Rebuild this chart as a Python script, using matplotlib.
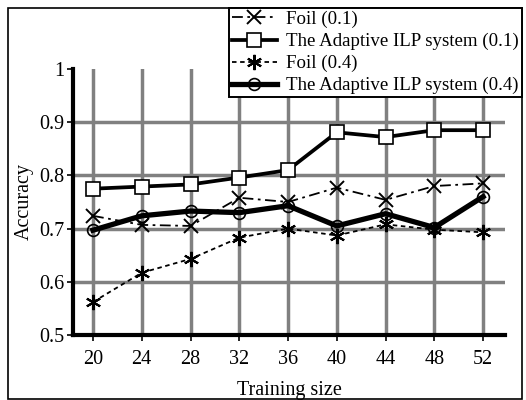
import matplotlib
matplotlib.use("Agg")
import matplotlib.pyplot as plt
from matplotlib.patches import Rectangle

plt.rcParams['font.family'] = ['Liberation Serif', 'DejaVu Serif']

training_size = [20, 24, 28, 32, 36, 40, 44, 48, 52]
foil_01 = [0.724, 0.707, 0.705, 0.758, 0.750, 0.777, 0.754, 0.780, 0.785]
adaptive_01 = [0.775, 0.779, 0.783, 0.796, 0.810, 0.881, 0.872, 0.885, 0.885]
foil_04 = [0.562, 0.617, 0.643, 0.683, 0.700, 0.687, 0.708, 0.698, 0.693]
adaptive_04 = [0.697, 0.724, 0.733, 0.730, 0.743, 0.705, 0.728, 0.702, 0.760]
labels = ["Foil (0.1)", "The Adaptive ILP system (0.1)",
          "Foil (0.4)", "The Adaptive ILP system (0.4)"]
yticks = [0.5, 0.6, 0.7, 0.8, 0.9, 1.0]
ytick_labels = ["0.5", "0.6", "0.7", "0.8", "0.9", "1"]

W, H = 526, 400
fig = plt.figure(figsize=(W / 100, H / 100), dpi=100)
ax = fig.add_axes([73 / W, 1 - 335 / H, (505 - 73) / W, (335 - 69) / H])

l2, = ax.plot(training_size, adaptive_01, color='black', lw=2.7, marker='s',
              ms=9.5, mfc='white', mec='black', mew=1.2, zorder=4, label=labels[1])
l4, = ax.plot(training_size, adaptive_04, color='black', lw=3.8, marker='o',
              ms=8.5, mfc='none', mec='black', mew=1.2, zorder=5, label=labels[3])
l1, = ax.plot(training_size, foil_01, color='black', lw=1.3, marker='x',
              ms=9.5, mew=1.4, dashes=[6, 2.5, 1.5, 2.5], zorder=6, label=labels[0])
l3, = ax.plot(training_size, foil_04, color='black', lw=1.3, marker=(6, 2, 0),
              ms=11, mew=1.5, dashes=[2.5, 2], zorder=6, label=labels[2])

ax.set_xlim(18.36, 53.8)
ax.set_ylim(0.5, 1.0)
ax.set_xticks(training_size)
ax.set_xticklabels([str(v) for v in training_size])
ax.set_yticks(yticks)
ax.set_yticklabels(ytick_labels)
ax.grid(True, color='#808080', lw=2.5, zorder=1)
ax.set_axisbelow(True)
ax.yaxis.get_gridlines()[-1].set_visible(False)
ax.yaxis.get_gridlines()[0].set_visible(False)

for s in ['top', 'right']:
    ax.spines[s].set_visible(False)
for s in ['left', 'bottom']:
    ax.spines[s].set_linewidth(3.0)
    ax.spines[s].set_zorder(7)
ax.tick_params(axis='both', direction='out', length=4.5, width=1.2,
               labelsize=14.5, color='black')
ax.tick_params(axis='x', pad=6)
ax.tick_params(axis='y', pad=1.5)

ax.set_xlabel("Training size", fontsize=14.5, labelpad=9)
ax.set_ylabel("Accuracy", fontsize=14.5, labelpad=4)

leg = fig.legend(handles=[l1, l2, l3, l4], labels=labels, loc='upper right',
                 bbox_to_anchor=(522 / W, 1 - 8 / H), fontsize=13.6,
                 numpoints=1, handlelength=2.4, handletextpad=0.5,
                 labelspacing=0.25, borderpad=0.15, borderaxespad=0,
                 fancybox=False, framealpha=1, edgecolor='black')
leg.get_frame().set_linewidth(1.4)
leg.set_zorder(10)

fig.patches.append(Rectangle((8 / W, 1 / H), (522 - 8) / W, (392 - 1) / H,
                             transform=fig.transFigure, fill=False,
                             edgecolor='black', lw=1.2, zorder=0))

fig.savefig("out.png", dpi=100)
